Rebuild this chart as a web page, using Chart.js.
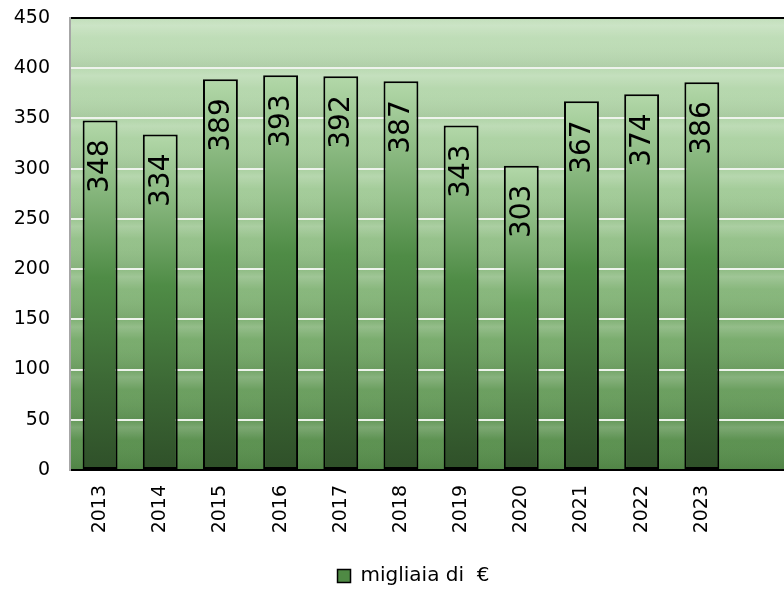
<!DOCTYPE html>
<html>
<head>
<meta charset="utf-8">
<script src="https://cdn.jsdelivr.net/npm/chart.js@4/dist/chart.umd.min.js"></script>
<style>
  html, body { margin: 0; padding: 0; background: #fff; overflow: hidden; }
  #wrap { width: 800px; height: 591px; }
</style>
</head>
<body>
<div id="wrap"><canvas id="revenueChart" width="800" height="591"></canvas></div>
<script>
const years = ['2013', '2014', '2015', '2016', '2017', '2018', '2019', '2020', '2021', '2022', '2023', ''];
const values = [348, 334, 389, 393, 392, 387, 343, 303, 367, 374, 386, null];
const yTicks = [0, 50, 100, 150, 200, 250, 300, 350, 400, 450];
const seriesLabel = 'migliaia di  €';

const FONT = 'DejaVu Sans, Verdana, sans-serif';

const barFill = (context) => {
    const chart = context.chart;
    const area = chart.chartArea;
    const v = context.raw;
    if (!area || v == null) return '#4f8b45';
    const y = chart.scales.y;
    const top = y.getPixelForValue(v);
    const bottom = y.getPixelForValue(0);
    const g = chart.ctx.createLinearGradient(0, top, 0, bottom);
    g.addColorStop(0, '#b3d8a9');
    g.addColorStop(0.45, '#4f8c46');
    g.addColorStop(0.75, '#3c6835');
    g.addColorStop(1, '#2f5029');
    return g;
};

const plotBackground = {
    id: 'plotBackground',
    beforeDraw(chart) {
        const { ctx, chartArea } = chart;
        const y = chart.scales.y;
        ctx.save();
        const g = ctx.createLinearGradient(0, chartArea.top, 0, chartArea.bottom);
        g.addColorStop(0, '#c2dfbb');
        g.addColorStop(0.35, '#a8cf9e');
        g.addColorStop(0.7, '#7cae70');
        g.addColorStop(1, '#558b4a');
        ctx.fillStyle = g;
        ctx.fillRect(chartArea.left, chartArea.top, chartArea.right - chartArea.left, chartArea.bottom - chartArea.top);
        // banding inside each 50 step
        for (let i = 0; i < yTicks.length - 1; i++) {
            const t = y.getPixelForValue(yTicks[i + 1]);
            const b = y.getPixelForValue(yTicks[i]);
            const bg = ctx.createLinearGradient(0, t, 0, b);
            bg.addColorStop(0, 'rgba(255,255,255,0)');
            bg.addColorStop(0.15, 'rgba(255,255,255,0.17)');
            bg.addColorStop(0.4, 'rgba(255,255,255,0)');
            bg.addColorStop(1, 'rgba(0,0,0,0.06)');
            ctx.fillStyle = bg;
            ctx.fillRect(chartArea.left, t, chartArea.right - chartArea.left, b - t);
        }
        ctx.restore();
    }
};

const barLabels = {
    id: 'barLabels',
    afterDatasetsDraw(chart) {
        const { ctx } = chart;
        const meta = chart.getDatasetMeta(0);
        ctx.save();
        ctx.font = '28px ' + FONT;
        ctx.fillStyle = '#000';
        ctx.textAlign = 'right';
        ctx.textBaseline = 'middle';
        meta.data.forEach((bar, i) => {
            if (values[i] == null) return;
            ctx.save();
            ctx.translate(bar.x, bar.y + 19);
            ctx.rotate(-Math.PI / 2);
            ctx.fillText(String(values[i]), 0, 1);
            ctx.restore();
        });
        ctx.restore();
    }
};

// legend sits a bit right of the canvas centre in the original
const legendShift = {
    id: 'legendShift',
    afterLayout(chart) {
        if (chart.legend) {
            chart.legend.left += 16;
            chart.legend.right += 16;
        }
    }
};

new Chart(document.getElementById('revenueChart'), {
    type: 'bar',
    data: {
        labels: years,
        datasets: [{
            label: seriesLabel,
            data: values,
            backgroundColor: barFill,
            borderColor: '#000',
            borderWidth: 2,
            borderSkipped: false,
            barPercentage: 0.58,
            categoryPercentage: 1
        }]
    },
    options: {
        responsive: false,
        animation: false,
        layout: { padding: { top: 18, right: 5, bottom: -5, left: 0 } },
        plugins: {
            tooltip: { enabled: false },
            legend: {
                position: 'bottom',
                labels: {
                    color: '#000',
                    font: { family: FONT, size: 20 },
                    boxWidth: 13,
                    boxHeight: 13,
                    padding: 0,
                    generateLabels: (chart) => [{
                        text: seriesLabel,
                        fillStyle: '#4f8a44',
                        strokeStyle: '#000',
                        lineWidth: 1.5,
                        datasetIndex: 0
                    }]
                }
            }
        },
        scales: {
            x: {
                grid: { display: false, drawTicks: false },
                border: { color: '#000', width: 2 },
                ticks: {
                    color: '#000',
                    font: { family: FONT, size: 19 },
                    minRotation: 90,
                    maxRotation: 90,
                    padding: 15,
                    autoSkip: false
                },
                afterFit: (scale) => { scale.height = 96; }
            },
            y: {
                min: 0,
                max: 450,
                afterBuildTicks: (scale) => { scale.ticks = yTicks.map(v => ({ value: v })); },
                grid: {
                    drawTicks: false,
                    lineWidth: 2,
                    color: (c) => c.tick && c.tick.value === 450 ? '#000' : '#eef3ec'
                },
                border: { color: '#a6a6a6', width: 2 },
                ticks: {
                    color: '#000',
                    font: { family: FONT, size: 19 },
                    padding: 20
                },
                afterFit: (scale) => {
                    scale.width = 70;
                    scale.paddingTop = 10;
                    scale.paddingBottom = 10;
                }
            }
        }
    },
    plugins: [plotBackground, barLabels, legendShift]
});
</script>
</body>
</html>
